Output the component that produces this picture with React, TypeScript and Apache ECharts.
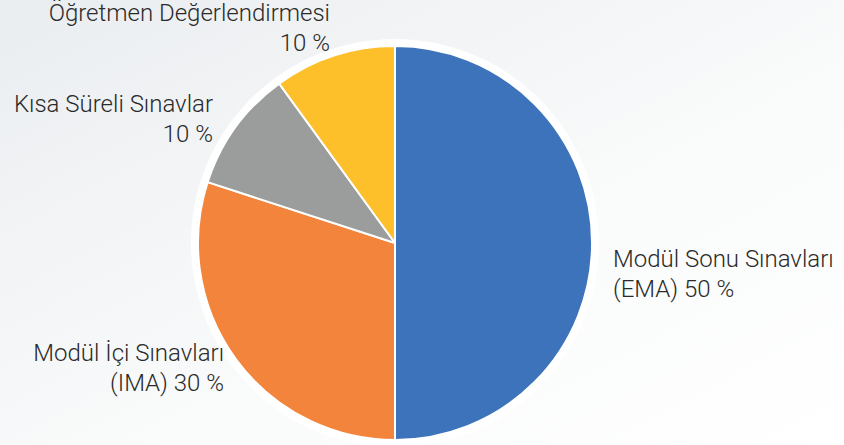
import React, { useEffect, useRef } from "react";
import * as echarts from "echarts";

const categories = [
  "Modül Sonu Sınavları\n(EMA) 50 %",
  "Modül İçi Sınavları\n(IMA) 30 %",
  "Kısa Süreli Sınavlar\n10 %",
  "Öğretmen Değerlendirmesi\n10 %",
];
const values = [50, 30, 10, 10];
const colors = ["#3d73bb", "#f2843b", "#9b9d9d", "#fdbf2a"];

// label anchor placement (x, y, align) per slice
const labelPlacement = [
  { x: 613, y: 274, align: "left" },
  { x: 224, y: 368, align: "right" },
  { x: 213, y: 119, align: "right" },
  { x: 330, y: 28, align: "right" },
];

export default function App() {
  const ref = useRef<HTMLDivElement>(null);
  useEffect(() => {
    document.body.style.margin = "0";
    const chart = echarts.init(ref.current!, null, { renderer: "svg" });
    chart.setOption({
      animation: false,
      backgroundColor: {
        type: "linear",
        x: 0,
        y: 0,
        x2: 1,
        y2: 1,
        colorStops: [
          { offset: 0, color: "#eaedf0" },
          { offset: 0.6, color: "#fafbfb" },
          { offset: 1, color: "#ffffff" },
        ],
      },
      series: [
        {
          type: "pie",
          silent: true,
          center: [395, 243],
          radius: 204,
          startAngle: 90,
          label: { show: false },
          labelLine: { show: false },
          itemStyle: { color: "#ffffff" },
          data: [{ value: 1, name: "ring" }],
          z: 1,
        },
        {
          type: "pie",
          center: [395, 243],
          radius: 197,
          startAngle: 90,
          clockwise: true,
          z: 2,
          itemStyle: { borderColor: "#ffffff", borderWidth: 2 },
          label: {
            show: true,
            position: "outside",
            formatter: "{b}",
            color: "#2a2a2a",
            fontFamily: "Roboto",
            fontWeight: 300,
            fontSize: 24,
            lineHeight: 30,
            overflow: "none",
            edgeDistance: 0,
          },
          labelLine: { show: false },
          labelLayout: (params: any) => {
            const p = labelPlacement[params.dataIndex];
            return {
              x: p.x,
              y: p.y,
              align: p.align,
              verticalAlign: "middle",
            };
          },
          data: categories.map((c, i) => ({
            name: c,
            value: values[i],
            itemStyle: { color: colors[i] },
            label: { align: labelPlacement[i].align },
          })),
        },
      ],
    });
    return () => chart.dispose();
  }, []);
  return <div ref={ref} style={{ width: 844, height: 445 }} />;
}
